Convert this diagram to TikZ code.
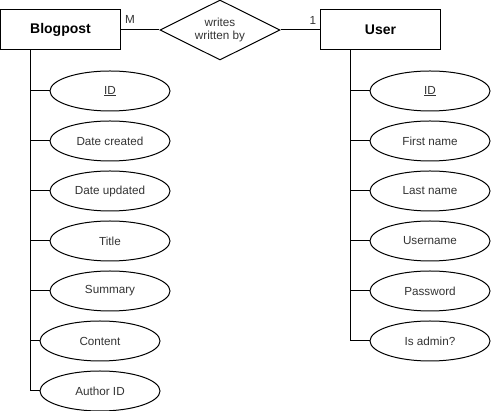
\documentclass[tikz,border=0pt]{standalone}
\usepackage{fontspec}
\setmainfont{Liberation Sans}
\usetikzlibrary{shapes.geometric}
\begin{document}
\begin{tikzpicture}[x=1pt,y=-1pt,line width=1pt,
  entity/.style={draw,rectangle,minimum width=120pt,minimum height=40pt,inner sep=0pt,font=\fontsize{14}{16}\selectfont\bfseries},
  attr/.style={draw,ellipse,minimum width=120pt,minimum height=40pt,inner sep=0pt,text=black!80,font=\fontsize{11.7}{13}\selectfont},
  rel/.style={draw,diamond,aspect=2,minimum width=120pt,minimum height=60pt,inner sep=0pt,align=center,text=black!80,font=\fontsize{11.7}{13.5}\selectfont},
  card/.style={font=\fontsize{11.7}{13}\selectfont,inner sep=0pt,text=black!80},
  conn/.style={draw,line width=1pt}]
\useasboundingbox (0,0) rectangle (491,411);
\node[entity] (bp) at (60.5,30) {Blogpost};
\node[entity] (us) at (380.5,30) {User};
\node[rel] (wr) at (220,30) {writes\\written by};
\node[card] (m) at (130,19) {M};
\node[card] (one) at (313,20) {1};
\path[conn] (bp) -- (wr);
\path[conn] (wr) -- (us);
% Blogpost attributes
\node[attr] (bid) at (110,91) {\underline{ID}};
\node[attr] (bdc) at (110,141) {Date created};
\node[attr] (bdu) at (110,191) {Date updated};
\node[attr] (bti) at (110,241) {Title};
\node[attr] (bsu) at (110,291) {Summary};
\node[attr] (bco) at (100,341) {Content};
\node[attr] (bai) at (100,391) {Author ID};
\foreach \a in {bid,bdc,bdu,bti,bsu,bco,bai}
  \path[conn] ([xshift=-30pt]bp.south) |- (\a.west);
% User attributes
\node[attr] (uid) at (430,91) {\underline{ID}};
\node[attr] (ufn) at (430,141) {First name};
\node[attr] (uln) at (430,191) {Last name};
\node[attr] (uun) at (430,241) {Username};
\node[attr] (upw) at (430,291) {Password};
\node[attr] (uad) at (430,341) {Is admin?};
\foreach \a in {uid,ufn,uln,uun,upw,uad}
  \path[conn] ([xshift=-30pt]us.south) |- (\a.west);
\end{tikzpicture}
\end{document}
